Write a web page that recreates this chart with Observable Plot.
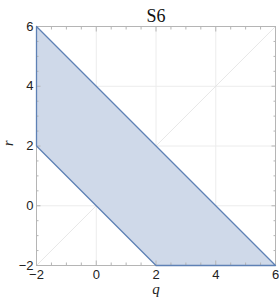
<!DOCTYPE html>
<html>
<head>
<meta charset="utf-8">
<script src="https://cdn.jsdelivr.net/npm/d3@7"></script>
<script src="https://cdn.jsdelivr.net/npm/@observablehq/plot@0.6"></script>
<style>
  html, body { margin: 0; padding: 0; background: #fff; }
</style>
</head>
<body>
<div id="chart"></div>
<script>
const title = "S6";
const xLabel = "q";
const yLabel = "r";
const majorTicks = [-2, 0, 2, 4, 6];
const minorTicks = [-1.5, -1, -0.5, 0.5, 1, 1.5, 2.5, 3, 3.5, 4.5, 5, 5.5];
const gridTicks = [0, 2, 4];
// region S6: boundary vertices (q, r)
const regionQ = [-2, -2, 2, 6, -2];
const regionR = [6, 2, -2, -2, 6];
// fill: for each q, lower and upper r
const fillQ = [-2, 2, 6];
const fillLo = [2, -2, -2];
const fillHi = [6, 2, -2];
// reference diagonal r = q
const diagQ = [-2, 6];
const diagR = [-2, 6];

const outline = regionQ.map((q, i) => ({q, r: regionR[i]}));
const fillData = fillQ.map((q, i) => ({q, lo: fillLo[i], hi: fillHi[i]}));
const diag = diagQ.map((q, i) => ({q, r: diagR[i]}));

const frameColor = "#b5b5b5";
const gridColor = "#ececec";
const blue = "#5e81b5";
const sans = "Liberation Sans, Arial, sans-serif";
const serif = "Liberation Serif, Times New Roman, serif";

const chart = Plot.plot({
  width: 279,
  height: 301,
  marginTop: 26,
  marginBottom: 36,
  marginLeft: 36,
  marginRight: 4,
  style: {background: "#fff", color: "#222"},
  x: {domain: [-2, 6], axis: null},
  y: {domain: [-2, 6], axis: null},
  marks: [
    Plot.gridX(gridTicks, {stroke: gridColor, strokeOpacity: 1}),
    Plot.gridY(gridTicks, {stroke: gridColor, strokeOpacity: 1}),
    Plot.line(diag, {x: "q", y: "r", stroke: "#e2e2e2", strokeWidth: 0.8}),
    Plot.areaY(fillData, {x: "q", y1: "lo", y2: "hi", fill: "#cfd9e9", fillOpacity: 1}),
    Plot.frame({stroke: frameColor}),
    // major ticks (inward) on all four sides
    Plot.axisX(majorTicks, {anchor: "bottom", tickSize: -4.5, fill: "none", stroke: frameColor, label: null}),
    Plot.axisX(majorTicks, {anchor: "top", tickSize: -4.5, fill: "none", stroke: frameColor, label: null}),
    Plot.axisY(majorTicks, {anchor: "left", tickSize: -4.5, fill: "none", stroke: frameColor, label: null}),
    Plot.axisY(majorTicks, {anchor: "right", tickSize: -4.5, fill: "none", stroke: frameColor, label: null}),
    // minor ticks
    Plot.axisX(minorTicks, {anchor: "bottom", tickSize: -2.5, fill: "none", stroke: frameColor, label: null}),
    Plot.axisX(minorTicks, {anchor: "top", tickSize: -2.5, fill: "none", stroke: frameColor, label: null}),
    Plot.axisY(minorTicks, {anchor: "left", tickSize: -2.5, fill: "none", stroke: frameColor, label: null}),
    Plot.axisY(minorTicks, {anchor: "right", tickSize: -2.5, fill: "none", stroke: frameColor, label: null}),
    // tick labels
    Plot.axisX(majorTicks, {anchor: "bottom", tickSize: 0, tickPadding: 4, fill: "#222", label: null, fontFamily: sans, fontSize: 13}),
    Plot.axisY(majorTicks, {anchor: "left", tickSize: 0, tickPadding: 3, fill: "#222", label: null, fontFamily: sans, fontSize: 13}),
    // region outline
    Plot.line(outline, {x: "q", y: "r", stroke: blue, strokeWidth: 1.3}),
    // title and axis labels
    Plot.text([title], {frameAnchor: "top", dy: -17, fontFamily: serif, fontSize: 18, fill: "#111", text: d => d}),
    Plot.text([xLabel], {frameAnchor: "bottom", dy: 28, fontFamily: serif, fontStyle: "italic", fontSize: 15, fill: "#222", text: d => d}),
    Plot.text([yLabel], {frameAnchor: "left", dx: -28, rotate: -90, fontFamily: serif, fontStyle: "italic", fontSize: 14, fill: "#222", text: d => d})
  ]
});
document.getElementById("chart").appendChild(chart);
</script>
</body>
</html>
